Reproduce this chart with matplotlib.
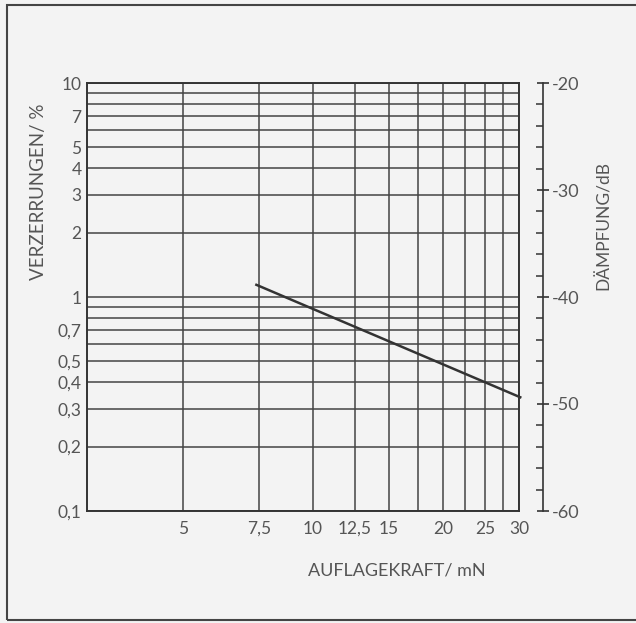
import numpy as np
import matplotlib.pyplot as plt
from matplotlib.ticker import FixedLocator, FixedFormatter, NullLocator
from matplotlib.patches import Rectangle

plt.rcParams['font.family'] = ['Lato', 'DejaVu Sans']

# Messkurve (Auflagekraft in mN, Verzerrungen in %)
force = [7.4, 30.2]
distortion = [1.14, 0.34]

# Gitter und Beschriftungen
x_grid = [5, 7.5, 10, 12.5, 15, 17.5, 20, 22.5, 25, 27.5, 30]
x_labels = {5: '5', 7.5: '7,5', 10: '10', 12.5: '12,5', 15: '15',
            20: '20', 25: '25', 30: '30'}
y_grid = [0.1, 0.2, 0.3, 0.4, 0.5, 0.6, 0.7, 0.8, 0.9,
          1, 2, 3, 4, 5, 6, 7, 8, 9, 10]
y_labels = {0.1: '0,1', 0.2: '0,2', 0.3: '0,3', 0.4: '0,4', 0.5: '0,5',
            0.7: '0,7', 1: '1', 2: '2', 3: '3', 4: '4', 5: '5', 7: '7', 10: '10'}
db_major = [-60, -50, -40, -30, -20]
db_minor = list(range(-60, -19, 2))

bg = '#f3f3f3'
ink = '#333333'
txt = '#555555'

fig = plt.figure(figsize=(6.36, 6.23), dpi=100, facecolor=bg)
# Rahmen um die Abbildung (rechts offen)
fig.patches.append(Rectangle((7 / 636, 3 / 623), 1.2, 615 / 623,
                             transform=fig.transFigure, fill=False,
                             edgecolor='#444444', lw=1.5))

ax = fig.add_axes([87 / 636, 112 / 623, 432 / 636, 428 / 623])
ax.set_facecolor(bg)
ax.set_xscale('log')
ax.set_yscale('log')
ax.set_xlim(3, 30)
ax.set_ylim(0.1, 10)

ax.xaxis.set_major_locator(FixedLocator(x_grid))
ax.xaxis.set_major_formatter(FixedFormatter([x_labels.get(v, '') for v in x_grid]))
ax.xaxis.set_minor_locator(NullLocator())
ax.yaxis.set_major_locator(FixedLocator(y_grid))
ax.yaxis.set_major_formatter(FixedFormatter([y_labels.get(v, '') for v in y_grid]))
ax.yaxis.set_minor_locator(NullLocator())
ax.tick_params(length=0, labelsize=12.5, labelcolor=txt)
ax.tick_params(axis='x', pad=7)
ax.tick_params(axis='y', pad=4)
ax.grid(True, color='#444444', lw=1.1)
for s in ax.spines.values():
    s.set_color('#333333')
    s.set_linewidth(1.4)

ax.plot(force, distortion, color=ink, lw=1.8, clip_on=False, zorder=3)

ax.set_xlabel('AUFLAGEKRAFT/ mN', fontsize=13, color=txt)
ax.xaxis.set_label_coords(0.718, -0.121)
ax.set_ylabel('VERZERRUNGEN/ %', fontsize=13.5, color=txt)
ax.yaxis.set_label_coords(-0.092, 0.745)

# Dämpfungsskala rechts
ax2 = ax.twinx()
ax2.set_ylim(-60, -20)
for k in ['left', 'top', 'bottom']:
    ax2.spines[k].set_visible(False)
ax2.spines['right'].set_position(('outward', 17))
ax2.spines['right'].set_color('#333333')
ax2.spines['right'].set_linewidth(1.2)
ax2.yaxis.set_major_locator(FixedLocator(db_major))
ax2.yaxis.set_major_formatter(FixedFormatter(['-%d' % -v for v in db_major]))
ax2.yaxis.set_minor_locator(FixedLocator(db_minor))
ax2.tick_params(axis='y', which='major', direction='inout', length=9,
                width=1.2, color='#333333', labelsize=13, labelcolor=txt, pad=2)
ax2.tick_params(axis='y', which='minor', direction='in', length=5,
                width=1.1, color='#333333')
ax2.set_ylabel('DÄMPFUNG/dB', fontsize=12.5, color=txt, rotation=90)
ax2.yaxis.set_label_coords(1.178, 0.668)

fig.savefig('out.png', dpi=100, facecolor=bg)
